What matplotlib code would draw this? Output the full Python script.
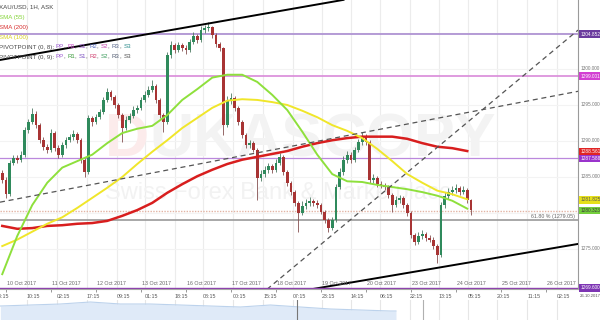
import matplotlib
matplotlib.use("Agg")
import matplotlib.pyplot as plt
import matplotlib.transforms as mtransforms
from matplotlib import font_manager
import numpy as np

# bar i sits at hour 2*i - 2, counted from 10 Oct 00:00 (weekend skipped)
first_open = 1285.5
closes = [
    1284.6, 1282.6, 1286.9, 1287.6, 1287.4, 1288.1, 1291.5, 1292.6, 1293.8, 1292.2,
    1290.1, 1289.2, 1288.8, 1291.1, 1289.0, 1288.1, 1289.4, 1290.1, 1290.6, 1291.0,
    1290.1, 1287.4, 1285.7, 1293.2, 1292.6, 1293.3, 1294.0, 1295.7, 1296.8, 1296.1,
    1295.0, 1293.6, 1291.8, 1292.9, 1293.5, 1294.3, 1294.6, 1295.7, 1296.4, 1297.1,
    1297.6, 1295.7, 1293.6, 1292.6, 1301.9, 1303.3, 1302.6, 1303.3, 1302.9, 1302.6,
    1303.8, 1304.6, 1304.0, 1305.4, 1305.7, 1305.8, 1304.7, 1303.5, 1302.9, 1292.2,
    1295.7, 1296.0, 1294.6, 1292.6, 1290.8, 1289.4, 1289.7, 1288.8, 1284.9, 1285.4,
    1286.0, 1286.5, 1286.0, 1287.0, 1287.8, 1285.7, 1284.2, 1282.9, 1281.4, 1280.0,
    1281.0, 1281.4, 1281.7, 1281.4, 1281.1, 1280.1, 1279.0, 1277.9, 1279.0, 1283.6,
    1285.7, 1287.4, 1288.1, 1287.4, 1288.8, 1289.9, 1290.6, 1289.9, 1284.6, 1284.9,
    1284.0, 1283.8, 1283.6, 1282.5, 1281.1, 1281.8, 1282.1, 1281.1, 1280.0, 1276.9,
    1276.0, 1276.8, 1277.1, 1276.5, 1276.3, 1275.4, 1274.2, 1281.1, 1282.4, 1282.9,
    1283.2, 1283.5, 1282.9, 1283.2, 1281.8, 1280.4,
]
highs = [
    1285.9, 1285.0, 1287.4, 1288.1, 1288.0, 1288.6, 1291.9, 1293.1, 1294.6, 1294.1,
    1292.5, 1290.5, 1289.6, 1291.6, 1291.4, 1289.4, 1289.8, 1290.5, 1291.0, 1291.5,
    1291.3, 1290.4, 1287.7, 1293.6, 1293.5, 1293.8, 1294.5, 1296.1, 1297.4, 1297.1,
    1296.4, 1295.3, 1293.9, 1293.4, 1293.9, 1294.8, 1295.0, 1296.1, 1296.9, 1297.6,
    1298.5, 1297.9, 1296.0, 1293.9, 1302.4, 1303.9, 1303.6, 1303.8, 1303.6, 1303.3,
    1304.2, 1305.1, 1304.9, 1305.9, 1306.1, 1306.5, 1306.0, 1305.0, 1303.8, 1303.1,
    1296.2, 1296.6, 1296.3, 1294.9, 1292.9, 1291.1, 1290.2, 1290.0, 1289.0, 1285.9,
    1286.5, 1287.0, 1286.8, 1287.5, 1288.3, 1288.0, 1286.0, 1284.5, 1283.2, 1281.7,
    1281.6, 1281.9, 1282.2, 1282.0, 1281.8, 1281.4, 1280.4, 1279.3, 1279.5, 1284.0,
    1286.2, 1287.9, 1288.6, 1288.4, 1289.2, 1290.3, 1291.3, 1290.9, 1290.1, 1285.4,
    1285.2, 1284.4, 1284.1, 1283.9, 1282.8, 1282.3, 1282.5, 1282.4, 1281.4, 1280.3,
    1277.2, 1277.3, 1277.6, 1277.4, 1276.9, 1276.6, 1275.7, 1281.5, 1282.9, 1283.4,
    1283.7, 1284.0, 1283.8, 1283.7, 1283.5, 1282.0,
]
lows = [
    1284.2, 1282.1, 1282.3, 1286.6, 1287.0, 1287.1, 1287.8, 1291.1, 1292.3, 1291.8,
    1289.7, 1288.8, 1288.3, 1288.5, 1288.6, 1287.7, 1287.8, 1289.0, 1289.8, 1290.2,
    1289.7, 1287.0, 1285.0, 1285.4, 1292.1, 1292.3, 1293.0, 1293.7, 1295.4, 1295.7,
    1294.6, 1293.2, 1289.9, 1291.5, 1292.5, 1293.2, 1293.9, 1294.3, 1295.4, 1296.1,
    1296.8, 1295.3, 1293.2, 1291.2, 1292.3, 1301.5, 1302.2, 1302.3, 1302.5, 1302.1,
    1302.3, 1303.4, 1303.6, 1303.7, 1305.0, 1305.3, 1304.3, 1303.1, 1302.5, 1290.8,
    1291.9, 1295.2, 1294.2, 1292.2, 1290.4, 1289.0, 1289.0, 1288.4, 1281.8, 1284.5,
    1285.0, 1285.6, 1285.6, 1285.7, 1286.6, 1285.3, 1283.8, 1282.5, 1281.0, 1277.4,
    1279.7, 1280.6, 1281.0, 1281.0, 1280.7, 1279.8, 1278.6, 1277.4, 1277.6, 1278.7,
    1283.3, 1285.3, 1287.0, 1287.0, 1287.1, 1288.4, 1289.5, 1289.5, 1284.2, 1284.2,
    1283.6, 1283.4, 1283.2, 1282.1, 1280.1, 1280.8, 1281.4, 1280.7, 1279.6, 1276.5,
    1275.6, 1275.7, 1276.4, 1276.1, 1275.9, 1275.0, 1273.1, 1273.9, 1280.7, 1282.0,
    1282.5, 1282.8, 1282.5, 1282.6, 1281.4, 1279.7,
]

# moving averages, sampled on every 4th bar
sma55 = [1271.5, 1276.8, 1281.1, 1284.2, 1286.3, 1287.2, 1288.1, 1289.7, 1291.1, 1291.7,
         1292.1, 1293.6, 1295.7, 1297.2, 1298.8, 1299.2, 1299.2, 1298.2, 1296.4, 1294.3,
         1291.3, 1288.1, 1285.4, 1284.4, 1284.3, 1283.9, 1283.6, 1283.3, 1282.9, 1282.4,
         1281.7, 1280.6]
sma100 = [1275.4, 1276.3, 1277.4, 1278.5, 1279.4, 1280.7, 1282.1, 1283.5, 1285.0, 1286.8,
          1288.5, 1290.1, 1291.8, 1293.2, 1294.6, 1295.6, 1295.8, 1295.7, 1295.4, 1295.0,
          1294.2, 1293.3, 1292.2, 1291.4, 1290.4, 1288.9, 1287.2, 1285.4, 1284.2, 1283.1,
          1282.6, 1281.9]
sma200 = [1278.2, 1277.8, 1277.9, 1278.2, 1278.3, 1278.5, 1278.6, 1278.9, 1279.6, 1280.4,
          1281.4, 1282.8, 1284.0, 1285.1, 1286.0, 1286.8, 1287.4, 1287.8, 1288.2, 1288.6,
          1289.2, 1289.7, 1290.1, 1290.4, 1290.6, 1290.6, 1290.6, 1290.3, 1289.7, 1289.2,
          1289.0, 1288.6]

# horizontal levels
r_level = 1304.852
r2_level = 1299.001
pp_level = 1287.588
bottom_level = 1269.6
last_price = 1280.3
fib_level = 1279.05

# trend lines (hour, price)
upper_channel = ([-3.2, 180.0], [1301.25, 1309.6])
lower_channel = ([160.5, 305.1], [1269.3, 1275.7])
shallow_dash = ([-3.2, 305.1], [1281.5, 1296.9])
steep_dash = ([139.2, 305.1], [1269.4, 1305.4])

day_labels = ["10 Oct 2017", "11 Oct 2017", "12 Oct 2017", "13 Oct 2017", "16 Oct 2017",
              "17 Oct 2017", "18 Oct 2017", "19 Oct 2017", "20 Oct 2017", "23 Oct 2017",
              "24 Oct 2017", "25 Oct 2017", "26 Oct 2017"]
time_ticks = [-5.5, 11.2, 27.2, 43.2, 59.2, 74.1, 90.1, 105.1, 121.1, 137.1, 153.1,
              168.5, 184.0, 199.5, 215.5, 230.9, 246.4, 261.9, 277.9, 293.9]
time_labels = ["18:15", "10:15", "02:15", "17:15", "09:15", "01:15", "18:15", "08:15",
               "00:15", "15:15", "07:15", "23:15", "14:15", "06:15", "22:15", "13:15",
               "05:15", "20:15", "11:15", "02:15"]

axis_prices = [1275, 1285, 1290, 1295, 1300]
tag_values = [1304.852, 1299.001, 1288.561, 1287.588, 1281.825, 1280.323]
tag_colors = ["#6b3b9e", "#d23fd2", "#e02424", "#9a34cc", "#e6e01a", "#74cf3c"]
tag_text = ["white", "white", "white", "white", "#555555", "#3a3a3a"]

# lower indicator panel
vol_t = [-3, 13, 29, 45, 61, 77, 93, 109, 125, 141, 157, 173, 189, 205, 208]
vol_v = [14, 15, 16, 18, 16, 16, 15, 14, 13, 15, 13, 11, 10, 9, 9]

names = {f.name for f in font_manager.fontManager.ttflist}
small_font = "Liberation Sans Narrow" if "Liberation Sans Narrow" in names else "Liberation Sans"
fs = 3.8      # axis texts
fs_tag = 3.4  # right-hand price tags

W, H = 600, 320
fig = plt.figure(figsize=(6, 3.2), dpi=100)
ax = fig.add_axes([0, 31 / H, 578 / W, 289 / H])
ax.set_xlim(-3.2, 305.07)
ax.set_ylim(1269.44, 1309.58)

# grid
for t in time_ticks:
    ax.axvline(t, color="#ececec", lw=0.8, zorder=0)
for p in [1275, 1280, 1285, 1290, 1295, 1300, 1305]:
    ax.axhline(p, color="#f3f3f3", lw=0.8, zorder=0)

# watermark
wm = ax.text(52.8, 1290.0, "D", fontsize=44, fontweight="bold", family="Liberation Sans",
             color="#fcebeb", va="center", ha="left", zorder=0.5)
ax.annotate("UKASCOPY", xy=(1, 0), xycoords=wm, fontsize=44, fontweight="bold",
            family="Liberation Sans", color="#f3f3f3", va="bottom", ha="left", zorder=0.5)
ax.text(52.8, 1282.8, "Swiss Forex Bank & Marketplace", fontsize=17, family="Liberation Sans",
        color="#f2f2f2", va="center", ha="left", zorder=0.5)

# levels
ax.axhline(r_level, color="#a98bd0", lw=1.2, zorder=2)
ax.axhline(r2_level, color="#d98ad9", lw=1.2, zorder=2)
ax.axhline(pp_level, color="#bb88dd", lw=0.9, zorder=2)
ax.axhline(last_price, color="#e2b4a4", lw=1.0, ls=(0, (1, 1)), zorder=2)
ax.axhline(fib_level, color="#9a9a9a", lw=1.2, zorder=2)
ax.axhline(bottom_level, color="#8e44ad", lw=1.0, zorder=6)
ax.text(303.5, fib_level + 0.15, "61.80 % (1279.05)", fontsize=fs, family=small_font,
        color="#666666", ha="right", va="bottom", zorder=6)

# candles
n = len(closes)
t_bar = np.arange(n) * 2 - 2
o = np.array([first_open] + closes[:-1])
c = np.array(closes)
hi = np.maximum(np.array(highs), np.maximum(o, c))
lo = np.minimum(np.array(lows), np.minimum(o, c))
up = c >= o
ax.vlines(t_bar, lo, hi, colors=np.where(up, "#4d7a62", "#855050"), lw=0.6, zorder=3)
ax.bar(t_bar, np.maximum(np.abs(c - o), 0.08), bottom=np.minimum(o, c), width=1.4,
       color=np.where(up, "#2f8a5c", "#a83434"), linewidth=0, zorder=3.1)

# moving averages
t_sma = t_bar[::4]
ax.plot(t_sma, sma200, color="#d81e1e", lw=1.8, zorder=4)
ax.plot(t_sma, sma100, color="#f0e62a", lw=1.4, zorder=4)
ax.plot(t_sma, sma55, color="#8ee03c", lw=1.4, zorder=4)

# trend lines
ax.plot(*upper_channel, color="black", lw=1.4, zorder=5)
ax.plot(*lower_channel, color="black", lw=1.4, zorder=5)
ax.plot(*shallow_dash, color="#555555", lw=0.9, ls=(0, (4, 3)), zorder=5)
ax.plot(*steep_dash, color="#555555", lw=0.9, ls=(0, (4, 3)), zorder=5)

# frame
for s in ["top", "left"]:
    ax.spines[s].set_visible(False)
ax.spines["right"].set_color("#9a9a9a")
ax.spines["bottom"].set_color("#a8a8a8")
ax.set_xticks(np.arange(len(day_labels)) * 24)
ax.set_yticks([])
ax.tick_params(axis="x", direction="out", length=2, width=0.6, color="#888888",
               labelbottom=False)

tx = mtransforms.blended_transform_factory(ax.transData, ax.transAxes)
ty = mtransforms.blended_transform_factory(ax.transAxes, ax.transData)

for k, lab in enumerate(day_labels):
    ax.text(k * 24 + 0.6, 0.018, lab, transform=tx, fontsize=fs, family=small_font,
            color="#666666", ha="left", va="center", zorder=6)
for t, lab in zip(time_ticks, time_labels):
    ax.text(t, -0.025, lab, transform=tx, fontsize=fs, family=small_font, color="#555555",
            ha="left", va="center", clip_on=False)

for p in axis_prices:
    ax.text(1.005, p, f"{p:.3f}", transform=ty, fontsize=fs_tag, family=small_font,
            color="#777777", ha="left", va="center", clip_on=False)
for v, bg, fg in zip(tag_values, tag_colors, tag_text):
    ax.text(1.004, v, f"{v:.3f}", transform=ty, fontsize=fs_tag, family=small_font, color=fg,
            ha="left", va="center", clip_on=False, zorder=10,
            bbox=dict(boxstyle="square,pad=0.25", fc=bg, ec="none"))
ax.text(1.004, bottom_level, f"{bottom_level:.3f}", transform=ty, fontsize=fs_tag,
        family=small_font, color="white", ha="left", va="center", clip_on=False, zorder=10,
        bbox=dict(boxstyle="square,pad=0.25", fc="#7d35b3", ec="none"))
ax.text(1.003, -0.025, "26.10.2017", transform=ax.transAxes, fontsize=3.1,
        family=small_font, color="#555555", ha="left", va="center", clip_on=False)


# legend lines in the top left corner
def colored_line(y_px, parts):
    prev = ax.text(-0.002, 1 - y_px / 289, parts[0][0], color=parts[0][1],
                   transform=ax.transAxes, fontsize=4.4, family=small_font,
                   ha="left", va="center", zorder=7)
    for s, col in parts[1:]:
        prev = ax.annotate(s, xy=(1, 0), xycoords=prev, color=col, fontsize=4.4,
                           family=small_font, ha="left", va="bottom", zorder=7)


grey = "#444444"
colored_line(7, [("XAU/USD, 1H, ASK", grey)])
colored_line(17, [("SMA (55)", "#86d53a")])
colored_line(27, [("SMA (200)", "#d83030")])
colored_line(37, [("SMA (100)", "#d9d020")])
colored_line(47, [("PIVOTPOINT (0, 8): ", grey), ("PP", "#9b59d0"), (", ", grey),
                  ("R1", "#c040c0"), (", ", grey), ("S1", "#9050c0"), (", ", grey),
                  ("R2", "#5a70c0"), (", ", grey), ("S2", "#c040a8"), (", ", grey),
                  ("R3", "#56658a"), (", ", grey), ("S3", "#2a8a8a")])
colored_line(57, [("PIVOTPOINT (0, 9): ", grey), ("PP", "#9b59d0"), (", ", grey),
                  ("R1", "#3a9a3a"), (", ", grey), ("S1", "#7a50c0"), (", ", grey),
                  ("R2", "#d04070"), (", ", grey), ("S2", "#3a9a5a"), (", ", grey),
                  ("R3", "#505a70"), (", ", grey), ("S3", "#505050")])

# lower indicator strip
ax2 = fig.add_axes([0, 0, 578 / W, 20 / H])
ax2.set_xlim(-3.2, 305.07)
ax2.set_ylim(0, 20)
ax2.axis("off")
for t in time_ticks:
    ax2.axvline(t, color="#e6e6e6", lw=0.8, zorder=0)
ax2.fill_between(vol_t, 0, vol_v, color="#dfeaf8", lw=0, zorder=1)
ax2.plot(vol_t, vol_v, color="#bcd2ec", lw=0.8, zorder=2)
ax2.axvline(155.2, color="#777777", lw=0.8, zorder=3)
ax2.axvline(222.4, color="#b0b0b0", lw=0.8, zorder=3)

fig.savefig("out.png", dpi=100)
